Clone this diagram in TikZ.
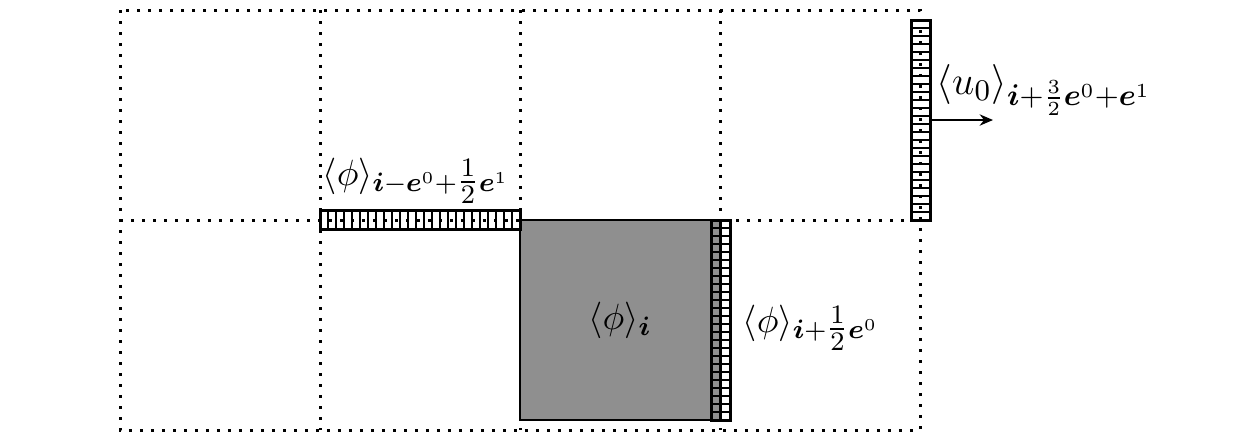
\documentclass[tikz,border=0pt]{standalone}
\usepackage{amsmath,bm}
\usetikzlibrary{arrows.meta,calc}
\begin{document}
\begin{tikzpicture}[x=0.3pt,y=-0.3pt,
  gridline/.style={line width=0.9pt,dash pattern=on 0.9pt off 2.4pt},
  cellbox/.style={draw,line width=0.8pt,fill=black!44,minimum width=60pt,minimum height=60pt,inner sep=0pt,outer sep=0pt},
  hstrip/.style={draw,line width=0.9pt,minimum width=60pt,minimum height=5.7pt,inner sep=0pt,outer sep=0pt},
  vstrip/.style={draw,line width=0.9pt,minimum width=5.7pt,minimum height=60pt,inner sep=0pt,outer sep=0pt},
  rung/.style={line width=0.6pt},
  lbl/.style={inner sep=0pt,font=\fontsize{11}{13}\selectfont},
  biglbl/.style={inner sep=0pt,font=\fontsize{12.2}{14}\selectfont},
  flux/.style={line width=0.6pt,-{Stealth[length=4pt,width=3.4pt]}}]
\useasboundingbox (0,0) rectangle (1260,441);
% dotted grid
\draw[gridline] (120,10) rectangle (920,430);
\foreach \x in {320,520,720} \draw[gridline] (\x,10) -- (\x,430);
\draw[gridline] (120,220) -- (920,220);
% cell
\node[cellbox] (cell) at (620,320) {};
\node[lbl] (lcell) at (cell.center) {$\langle\phi\rangle_{\bm{i}}$};
% horizontal strip
\node[hstrip] (sx) at (420,220) {};
\foreach \k in {1,...,24}
  \draw[rung] ($(sx.north west)!\k/25!(sx.north east)$) -- ($(sx.south west)!\k/25!(sx.south east)$);
% strip on cell face
\node[vstrip] (sg) at (721,320) {};
\foreach \k in {1,...,24}
  \draw[rung] ($(sg.north west)!\k/25!(sg.south west)$) -- ($(sg.north east)!\k/25!(sg.south east)$);
\draw[rung] (sg.north) -- (sg.south);
% top right strip
\node[vstrip] (su) at (921,120) {};
\foreach \k in {1,...,24}
  \draw[rung] ($(su.north west)!\k/25!(su.south west)$) -- ($(su.north east)!\k/25!(su.south east)$);
\coordinate (tip) at (993,120);
\draw[flux] (su.east) -- (tip);
% labels
\node[lbl] (lx) at (416,176) {$\langle\phi\rangle_{\bm{i}-\bm{e}^0+\smash{\tfrac{1}{2}}\bm{e}^1}$};
\node[lbl,anchor=west] (lg) at (742,323) {$\langle\phi\rangle_{\bm{i}+\smash{\tfrac{1}{2}}\bm{e}^0}$};
\node[biglbl,anchor=west] (lu) at (936,90) {$\langle u_0\rangle_{\bm{i}+\frac{3}{2}\bm{e}^0+\bm{e}^1}$};
\end{tikzpicture}
\end{document}
